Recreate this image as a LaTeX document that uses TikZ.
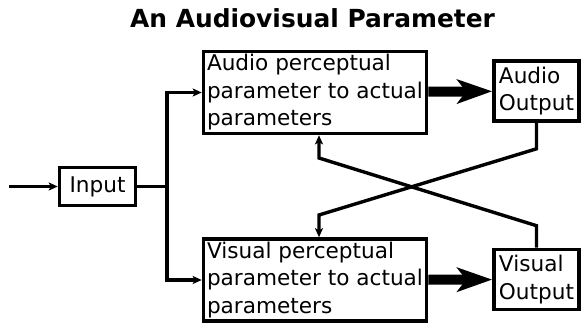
\documentclass[tikz,border=0pt]{standalone}
\usepackage{fontspec}
\setmainfont{DejaVu Sans}
\usetikzlibrary{arrows.meta,positioning}

\begin{document}
\begin{tikzpicture}[x=1pt,y=-1pt,line width=3.4pt,
  font=\fontsize{21.6}{27.5}\selectfont,
  box/.style={draw,line width=3.6pt,inner sep=0pt,align=left,minimum width=223pt,minimum height=82pt},
  outbox/.style={draw,line width=3.6pt,inner sep=0pt,align=left,minimum width=85pt,minimum height=60pt},
  thinarrow/.style={-{Stealth[length=9pt,width=8pt,inset=2pt]}},
  fatarrow/.style={line width=10pt,-{Stealth[length=35pt,width=24pt,inset=9pt]}}]
\useasboundingbox (0,0) rectangle (582,325);
\node[font=\fontsize{24.9}{30}\selectfont\bfseries,anchor=base] (title) at (312.5,27) {An Audiovisual Parameter};
\node[draw,line width=3.6pt,inner sep=0pt,minimum width=76pt,minimum height=38pt] (input) at (97.5,186.5) {Input};
\node[box] (audio) at (315,92.5) {Audio perceptual\\parameter to actual\\parameters};
\node[box] (visual) at (315,280) {Visual perceptual\\parameter to actual\\parameters};
\node[outbox] (aout) at (536.5,91) {Audio\\Output};
\node[outbox] (vout) at (536.5,279.5) {Visual\\Output};
\coordinate (start) at (9,186.5);
\coordinate (split) at (167,186.5);
\coordinate (xa) at (319,215);
\coordinate (xv) at (319,158);
\draw[thinarrow] (start) -- (input);
\draw (input) -- (split);
\foreach \n in {audio,visual} \draw[thinarrow] (split) |- (\n.west);
\draw[fatarrow] (audio) -- (aout);
\draw[fatarrow] (visual) -- (vout);
\draw[thinarrow] (aout.south) -- ++(0,26) -- (xa) -- (xa |- visual.north);
\draw[thinarrow] (vout.north) -- ++(0,-22) -- (xv) -- (xv |- audio.south);
\end{tikzpicture}
\end{document}
